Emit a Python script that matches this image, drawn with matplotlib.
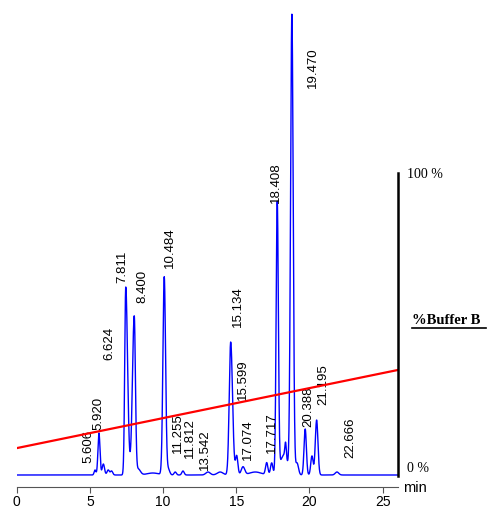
import matplotlib
matplotlib.use('Agg')
import matplotlib.pyplot as plt
import numpy as np

# peak table: time (min), height, front / tail width (min)
peak_time = [5.35, 5.62, 5.92, 6.25, 6.48, 7.45, 8.03, 8.30, 9.30, 10.08, 10.35,
             10.83, 11.36, 13.07, 13.90, 14.62, 15.03, 15.46, 16.30, 17.08, 17.42,
             17.80, 18.25, 18.37, 18.80, 19.15, 19.71, 20.17, 20.49, 21.88]
peak_height = [5, 42, 11, 5, 4, 188, 158, 6, 2, 198, 6,
               3, 4, 3, 3, 133, 19, 8, 3, 12, 12,
               270, 20, 15, 459, 12, 46, 19, 55, 3]
peak_front = [0.06, 0.07, 0.08, 0.08, 0.08, 0.07, 0.125, 0.15, 0.40, 0.09, 0.10,
              0.08, 0.08, 0.15, 0.20, 0.10, 0.08, 0.12, 0.40, 0.08, 0.08,
              0.075, 0.25, 0.05, 0.09, 0.10, 0.08, 0.08, 0.09, 0.12]
peak_tail = [0.06, 0.07, 0.08, 0.08, 0.08, 0.125, 0.08, 0.15, 0.40, 0.09, 0.10,
             0.08, 0.08, 0.15, 0.20, 0.125, 0.08, 0.12, 0.40, 0.08, 0.08,
             0.075, 0.25, 0.05, 0.09, 0.10, 0.08, 0.08, 0.09, 0.12]

# retention time labels: text, x (min), bottom of text (signal units)
label_text = ['5.606', '5.920', '6.624', '7.811', '8.400', '10.484', '11.255', '11.812',
              '13.542', '15.134', '15.599', '17.074', '17.717', '18.408', '19.470',
              '20.388', '21.195', '22.666']
label_x = [4.88, 5.55, 6.31, 7.19, 8.56, 10.47, 11.02, 11.84,
           12.86, 15.12, 15.46, 15.80, 17.44, 17.71, 20.24,
           19.90, 20.92, 22.77]
label_y = [12, 45, 115, 192, 172, 207, 22, 17,
           5, 148, 75, 15, 22, 272, 387,
           48, 70, 17]

# gradient of buffer B
grad_time = [0, 26.05]
grad_pct = [9.2, 35.0]

x_ticks = [0, 5, 10, 15, 20, 25]


def drawing():
    fig = plt.figure(figsize=(4.87, 5.08), dpi=100)
    W, H = 487.0, 508.0

    # trace from the peak table
    t = np.linspace(0, 26.05, 4000)
    y = np.zeros_like(t)
    for t0, h, wf, wt in zip(peak_time, peak_height, peak_front, peak_tail):
        w = np.where(t < t0, wf, wt)
        y += h * np.exp(-0.5 * ((t - t0) / w) ** 2)

    # main axes, pixel layout of the reference
    ax = fig.add_axes([16.7 / W, (H - 487) / H, (398 - 16.7) / W, 487 / H])
    ax.plot(t, y, color='#0000ff', lw=1.0)
    ax.set_xlim(0, 26.05)
    ax.set_ylim(-12, 475)
    for s in ['top', 'right', 'left']:
        ax.spines[s].set_visible(False)
    ax.spines['bottom'].set_color('#555555')
    ax.set_yticks([])
    ax.set_xticks(x_ticks)
    ax.set_xticklabels([str(v) for v in x_ticks], fontsize=10, family='Liberation Sans')
    ax.tick_params(axis='x', length=4, color='#555555', pad=2)
    ax.patch.set_alpha(0)

    for txt, lx, ly in zip(label_text, label_x, label_y):
        ax.text(lx, ly, txt, rotation=90, ha='center', va='bottom',
                fontsize=9.5, family='Liberation Sans')

    fig.text(403 / W, 1 - 488 / H, 'min', fontsize=10.5, family='Liberation Sans',
             ha='left', va='center')

    # gradient axes
    ax2 = fig.add_axes([16.7 / W, (H - 476) / H, (398 - 16.7) / W, 303 / H])
    ax2.plot(grad_time, grad_pct, color='#ff0000', lw=1.6)
    ax2.set_xlim(0, 26.05)
    ax2.set_ylim(0, 100)
    for s in ['top', 'left', 'bottom']:
        ax2.spines[s].set_visible(False)
    ax2.spines['right'].set_linewidth(1.8)
    ax2.spines['right'].set_color('black')
    ax2.set_xticks([])
    ax2.set_yticks([])
    ax2.patch.set_alpha(0)

    fig.text(407 / W, 1 - 175 / H, '100 %', fontsize=10, family='Liberation Serif',
             ha='left', va='center')
    fig.text(407 / W, 1 - 469 / H, '0 %', fontsize=10, family='Liberation Serif',
             ha='left', va='center')
    fig.text(412 / W, 1 - 320 / H, '%Buffer B', fontsize=10.5, family='Liberation Serif',
             fontweight='bold', ha='left', va='center')
    fig.add_artist(plt.Line2D([412 / W, 486 / W], [1 - 328 / H, 1 - 328 / H],
                              color='black', lw=1.2))

    plt.savefig('out.png', dpi=100)
    plt.close()


if __name__ == '__main__':
    drawing()
